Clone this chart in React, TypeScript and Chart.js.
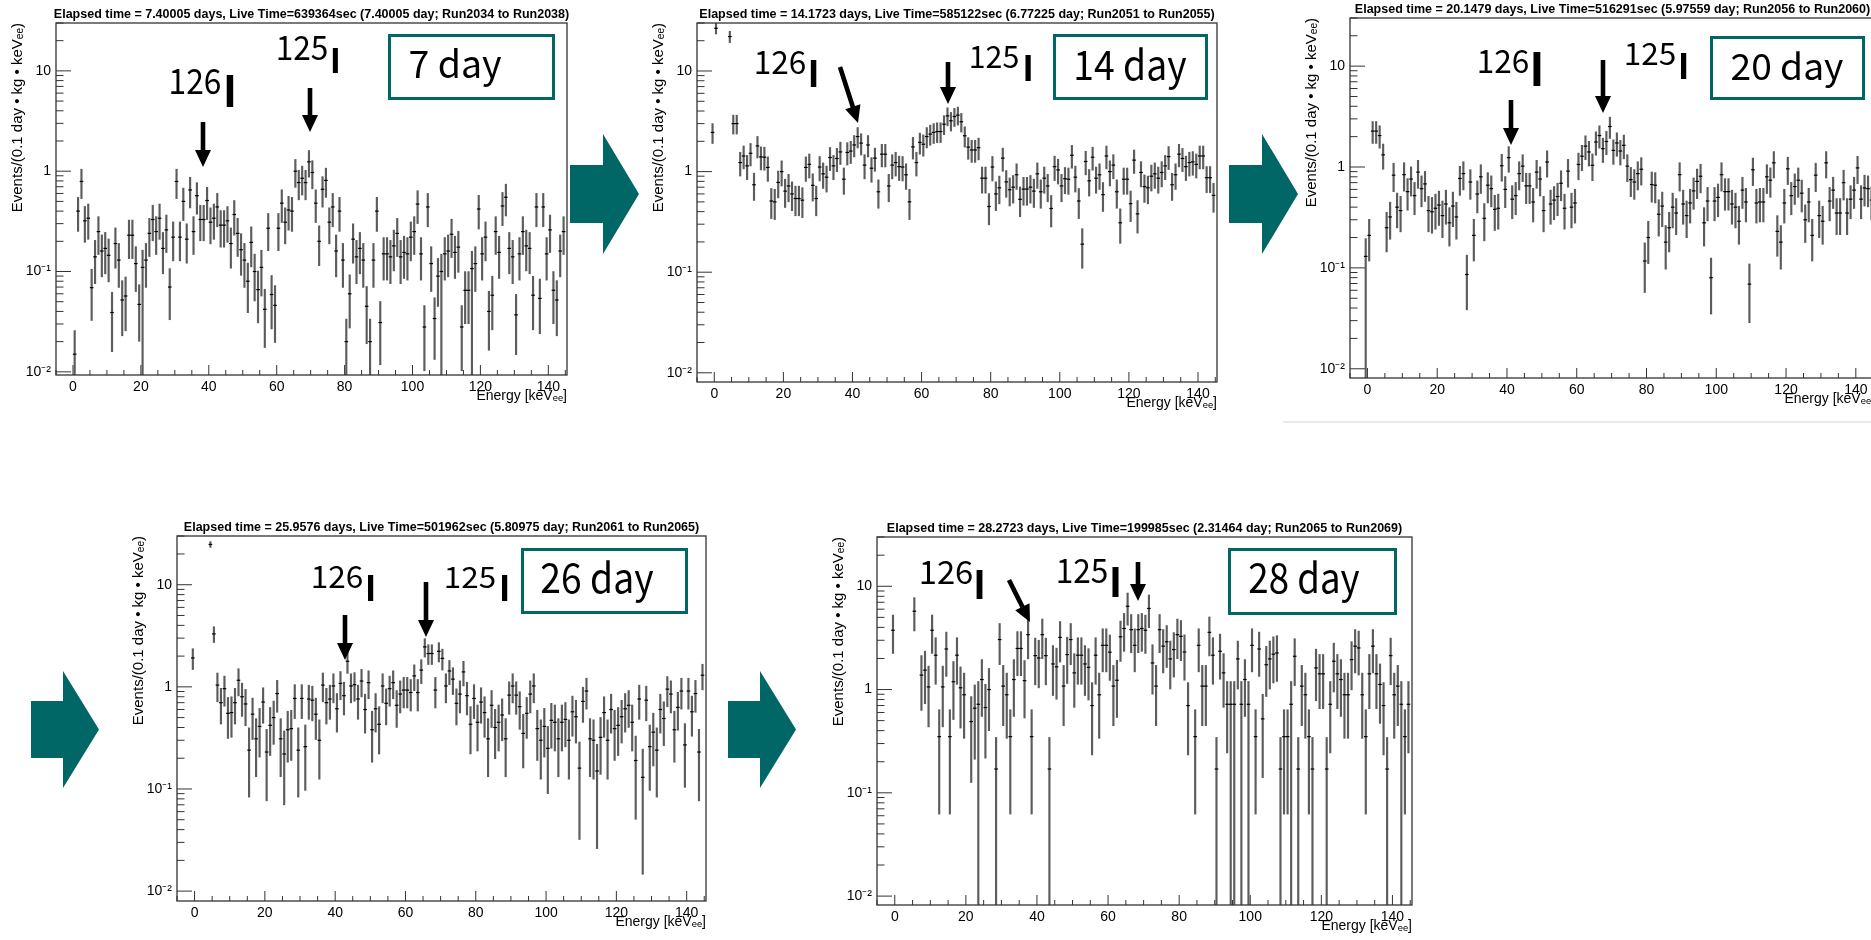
import React, { useEffect, useRef } from 'react';
import { Chart, registerables } from 'chart.js';

Chart.register(...registerables);

// ------------------------------------------------------------------
// DATA
// ------------------------------------------------------------------
// 1 keV wide energy bins, first bin centred at -0.5 keV (146 bins up to 144.5 keV)
const binCentersKeV: number[] = Array.from({ length: 146 }, (_, i) => i - 0.5);

const xTickValues = [-5, 0, 5, 10, 15, 20, 25, 30, 35, 40, 45, 50, 55, 60, 65, 70, 75, 80, 85, 90, 95, 100, 105, 110, 115, 120, 125, 130, 135, 140, 145];
const xTickLabels = [0, 20, 40, 60, 80, 100, 120, 140];
const yTickValues = [0.01, 0.02, 0.03, 0.04, 0.05, 0.06, 0.07, 0.08, 0.09, 0.1, 0.2, 0.3, 0.4, 0.5, 0.6, 0.7, 0.8, 0.9, 1, 2, 3, 4, 5, 6, 7, 8, 9, 10, 20, 30];
const yLabelValues = [0.01, 0.1, 1, 10];
const yLabelTexts = ['10\u207B\u00B2', '10\u207B\u00B9', '1', '10'];

const xAxisTitle = 'Energy [keV\u2091\u2091]';
const yAxisTitle = 'Events/(0.1 day \u2022 kg \u2022 keV\u2091\u2091)';

const titles = [
  'Elapsed time = 7.40005 days, Live Time=639364sec (7.40005 day; Run2034 to Run2038)',
  'Elapsed time = 14.1723 days, Live Time=585122sec (6.77225 day; Run2051 to Run2055)',
  'Elapsed time = 20.1479 days, Live Time=516291sec (5.97559 day; Run2056 to Run2060)',
  'Elapsed time = 25.9576 days, Live Time=501962sec (5.80975 day; Run2061 to Run2065)',
  'Elapsed time = 28.2723 days, Live Time=199985sec (2.31464 day; Run2065 to Run2069)',
];
const dayLabels = ['7 day', '14 day', '20 day', '26 day', '28 day'];

// Events/(0.1 day kg keVee) per bin; index 0 = bin centred at -0.5 keV
const day7Values = [null,
  0.015, 0.40, 0.79, 0.32, 0.34, 0.069, 0.14, 0.25, 0.16, 0.17,
  0.145, 0.039, 0.19, 0.13, 0.052, 0.057, 0.23, 0.23, 0.12, 0.047,
  0.11, 0.13, 0.24, 0.33, 0.25, 0.34, 0.17, 0.26, 0.07, 0.22,
  0.79, 0.22, 0.5, 0.21, 0.65, 0.25, 0.57, 0.33, 0.33, 0.51,
  0.31, 0.34, 0.44, 0.29, 0.29, 0.32, 0.19, 0.37, 0.24, 0.165,
  0.13, 0.08, 0.195, 0.1, 0.066, 0.11, 0.042, 0.27, 0.059, 0.046,
  0.27, 0.48, 0.31, 0.41, 0.4, 1.0, 0.77, 0.85, 0.77, 1.24,
  0.97, 0.48, 0.2, 0.66, 0.81, 0.31, 0.44, 0.16, 0.4, 0.13,
  0.02, 0.06, 0.21, 0.14, 0.17, 0.13, 0.045, 0.02, 0.13, 0.4,
  0.031, 0.15, 0.15, 0.14, 0.18, 0.24, 0.14, 0.155, 0.15, 0.22,
  0.25, 0.47, 0.15, 0.028, 0.44, 0.12, 0.034, 0.09, 0.1, 0.15,
  0.16, 0.235, 0.155, 0.175, 0.028, 0.065, 0.065, 0.107, 0.12, 0.42,
  0.15, 0.22, 0.04, 0.058, 0.25, 0.155, 0.45, 0.55, 0.17, 0.14,
  0.037, 0.15, 0.25, 0.18, 0.17, 0.058, 0.44, 0.054, 0.44, 0.15,
  0.26, 0.065, 0.052, 0.16, 0.25];

const day14Values = [2.45,
  26.6, null, null, null, 22, 3.0, 3.0, 1.23, 1.43, 1.14,
  1.52, 0.74, 1.8, 1.4, 1.39, 1.1, 0.51, 0.5, 0.78, 1.0,
  0.64, 0.72, 0.6, 0.54, 0.54, 0.52, 1.1, 1.18, 0.73, 0.54,
  1.11, 0.95, 0.88, 1.38, 1.14, 1.35, 1.57, 0.84, 1.55, 1.6,
  1.84, 2.23, 1.92, 1.16, 1.84, 1.08, 1.36, 0.63, 1.49, 1.49,
  0.72, 1.16, 1.23, 1.12, 1.11, 0.93, 0.5, 1.76, 1.23, 1.95,
  1.87, 2.23, 2.36, 2.45, 2.5, 2.5, 2.96, 3.58, 3.2, 3.53,
  3.64, 3.13, 2.27, 1.75, 1.64, 1.64, 1.73, 0.86, 0.86, 0.45,
  1.11, 0.6, 0.69, 1.36, 0.79, 0.66, 0.7, 0.93, 0.53, 0.67,
  0.67, 0.7, 0.64, 0.95, 0.63, 0.86, 0.72, 0.43, 1.12, 1.04,
  0.72, 0.85, 0.84, 1.45, 0.88, 0.51, 0.19, 1.26, 0.81, 1.39,
  0.86, 0.93, 0.59, 1.43, 1.0, 1.16, 0.63, 0.31, 0.84, 0.84,
  0.48, 1.3, 0.38, 0.98, 0.71, 0.69, 0.9, 0.95, 0.86, 0.98,
  1.14, 1.41, 0.74, 0.93, 1.49, 1.35, 1.12, 1.23, 1.25, 1.18,
  1.43, 1.43, 0.87, 0.87, 0.58];

const day20Values = [0.13,
  0.21, 2.27, 2.27, 2.05, 1.32, 0.25, 0.32, 0.83, 0.4, 0.37,
  0.84, 0.57, 0.76, 0.52, 0.89, 0.61, 0.68, 0.37, 0.36, 0.39,
  0.42, 0.33, 0.43, 0.28, 0.41, 0.32, 0.77, 0.86, 0.086, 0.71,
  0.21, 0.54, 0.8, 0.31, 0.66, 0.61, 0.38, 0.39, 1.03, 0.6,
  1.24, 0.48, 0.52, 0.86, 1.02, 0.65, 0.65, 0.45, 0.89, 0.76,
  0.37, 1.12, 0.43, 0.47, 0.51, 0.69, 0.39, 0.91, 0.4, 0.44,
  1.06, 1.28, 1.61, 1.41, 1.04, 1.77, 2.05, 1.52, 1.79, 2.52,
  1.46, 1.73, 1.44, 1.64, 1.02, 0.75, 0.71, 0.86, 0.95, 0.117,
  0.2, 0.67, 0.66, 0.34, 0.41, 0.18, 0.25, 0.4, 0.35, 0.84,
  0.43, 0.33, 0.44, 0.58, 0.72, 0.81, 0.28, 0.46, 0.08, 0.46,
  0.5, 0.84, 0.57, 0.57, 0.43, 0.4, 0.29, 0.59, 0.45, 0.069,
  0.94, 0.44, 0.45, 0.45, 0.8, 0.74, 1.1, 0.23, 0.18, 0.44,
  0.96, 0.52, 0.64, 0.74, 0.55, 0.3, 0.45, 0.21, 0.83, 0.33,
  0.29, 1.1, 0.46, 0.59, 0.35, 0.35, 0.7, 0.35, 0.48, 0.59,
  0.98, 0.48, 0.62, 0.61, 0.47];

const day26Values = [1.92,
  null, null, null, null, 24.8, 3.3, 1.04, 0.7, 0.96, 0.55,
  0.56, 0.7, 1.16, 0.8, 0.68, 0.24, 0.54, 0.31, 0.41, 0.71,
  0.23, 0.42, 0.5, 0.86, 0.31, 0.22, 0.38, 0.39, 0.77, 0.24,
  0.77, 0.26, 0.76, 0.74, 0.54, 0.3, 1.04, 0.7, 0.76, 1.02,
  0.61, 1.08, 0.82, 1.78, 1.02, 1.05, 0.76, 1.14, 0.6, 1.1,
  0.38, 0.61, 0.43, 1.02, 0.69, 0.96, 1.1, 0.66, 0.85, 0.93,
  0.93, 0.88, 1.28, 0.88, 1.46, 2.46, 2.12, 2.12, 0.93, 2.23,
  1.9, 1.02, 1.43, 1.19, 0.69, 0.85, 1.4, 0.82, 0.43, 0.77,
  0.45, 0.71, 0.56, 0.31, 0.66, 0.4, 0.45, 0.53, 0.31, 0.83,
  1.02, 0.83, 0.64, 0.35, 0.55, 0.85, 1.02, 0.39, 0.3, 0.41,
  0.25, 0.47, 0.45, 0.31, 0.45, 0.48, 0.3, 0.57, 0.51, 0.16,
  0.72, 0.91, 0.31, 0.3, 0.15, 0.32, 0.56, 0.3, 0.6, 0.39,
  0.42, 0.51, 0.61, 0.66, 0.45, 0.19, 0.76, 0.13, 0.74, 0.26,
  0.36, 0.24, 0.6, 0.49, 0.95, 0.85, 0.38, 0.63, 0.91, 0.27,
  0.91, 0.57, 0.86, 0.23, 1.3];

const day28Values = [3.75,
  null, null, null, null, null, 5.73, null, 1.38, 1.54, 1.06,
  3.75, 2.15, 0.35, 1.06, 2.47, 0.35, 1.19, 2.15, 1.04, 0.89,
  null, 0.49, 0.66, 0.72, 1.25, 0.67, 1.0, null, 0.17, 3.05,
  1.08, 0.89, 0.35, 1.25, 2.5, 2.5, 1.22, 3.4, 0.35, 2.13,
  2.02, 3.4, 2.13, 0.17, 1.77, 1.66, 3.2, 1.08, 2.18, 3.05,
  1.45, 2.15, 2.15, 1.77, 1.64, 0.7, 2.15, 0.89, 2.68, 2.68,
  2.3, 1.08, 1.23, 3.24, 3.9, 6.4, 3.8, 2.68, 3.8, 3.9,
  3.75, 6.1, 1.81, 1.08, 3.8, 2.63, 2.9, 1.98, 2.44, 3.4,
  3.28, 2.31, 0.7, null, 0.35, 2.68, 1.08, 1.08, 3.58, 2.15,
  0.17, 2.35, 1.45, 0.72, 0.72, 0.72, 1.98, 0.72, 1.25, 0.72,
  2.68, 0.35, 2.47, 0.52, 1.74, 1.98, 2.2, 2.26, 0.17, 0.35,
  0.35, 0.72, 2.1, 0.17, 1.08, 0.89, 0.35, 0.17, 1.62, 1.42,
  1.42, 0.17, 0.72, 1.88, 1.42, 1.25, 0.89, 0.89, 1.95, 2.63,
  2.53, 0.89, 0.35, 1.42, 2.63, 1.42, 1.12, 0.7, 0.17, 2.13,
  0.89, 1.08, 0.72, 0.35, 0.72];

// bins (centre, keV) whose lower error bar reaches the bottom of the axis
const day7BottomBins = [0.5, 20.5, 80.5, 87.5, 108.5, 117.5];
const day14BottomBins: number[] = [];
const day20BottomBins = [-0.5];
const day26BottomBins: number[] = [];
const day28BottomBins = [23.5, 28.5, 43.5, 90.5, 94.5, 95.5, 97.5, 99.5, 108.5, 111.5, 113.5, 117.5, 121.5, 138.5, 142.5];

// error bar size  err = scale * value^power
const errScale = [0.31, 0.28, 0.3, 0.32, 0.6];
const errPower = [0.8, 0.75, 0.75, 0.5, 0.7];

const yAxisMin = [0.0093, 0.0081, 0.0081, 0.008, 0.0082];
const yAxisMax = 30;
const xAxisMin = -5;
const xAxisMax = 145.5;

const seriesValues = [day7Values, day14Values, day20Values, day26Values, day28Values];
const seriesBottomBins = [day7BottomBins, day14BottomBins, day20BottomBins, day26BottomBins, day28BottomBins];

// ------------------------------------------------------------------
// LAYOUT
// ------------------------------------------------------------------
const FONT = "'Liberation Sans', Arial, Helvetica, sans-serif";
const JP = "'Noto Sans CJK JP', 'Noto Sans', sans-serif";
const TEAL = '#006666';
const LEFT = 50, RIGHT = 12, TOP = 23, BOTTOM = 32;

// plot frames (left, top, right, bottom) in page pixels
const frames = [
  { L: 56, T: 23, R: 567, B: 375 },
  { L: 697, T: 23, R: 1217, B: 382 },
  { L: 1350, T: 18, R: 1875, B: 378 },
  { L: 177, T: 536, R: 706, B: 901 },
  { L: 877, T: 537, R: 1412, B: 905 },
];

type Ann = {
  d126: number[]; i126: number[]; d125: number[]; i125: number[];
  arrows: number[][]; box: number[]; text: number[];
};
const annotations: Ann[] = [
  { d126: [170, 220, 68, 94], i126: [230, 75, 107], d125: [277, 327, 35, 60], i125: [335.5, 48, 73],
    arrows: [[203, 122, 203, 167], [310, 88, 310, 132]], box: [388, 34, 555, 100], text: [410, 500, 50, 78] },
  { d126: [755, 805, 50, 74], i126: [813.5, 60, 87], d125: [970, 1018, 45, 68], i125: [1028, 55, 81],
    arrows: [[840, 67, 858, 123], [948, 62, 948, 104]], box: [1053, 34, 1208, 100], text: [1075, 1185, 50, 80] },
  { d126: [1478, 1528, 49, 73], i126: [1537, 52, 86], d125: [1625, 1675, 42, 65], i125: [1683.5, 53, 79],
    arrows: [[1511, 100, 1511, 145], [1603, 60, 1603, 113]], box: [1710, 36, 1865, 100], text: [1732, 1842, 53, 80] },
  { d126: [312, 362, 565, 588], i126: [370.5, 575, 601], d125: [445, 495, 567, 588], i125: [504.5, 575, 601],
    arrows: [[345, 615, 345, 660], [426, 582, 426, 637]], box: [521, 548, 688, 614], text: [542, 652, 563, 593] },
  { d126: [920, 972, 560, 584], i126: [979.5, 570, 599], d125: [1057, 1107, 558, 583], i125: [1115.5, 567, 597],
    arrows: [[1009, 580, 1030, 622], [1138, 562, 1138, 601]], box: [1228, 548, 1397, 615], text: [1250, 1358, 563, 593] },
];

// big teal block arrows: [bodyLeft, bodyTop, headStart, bodyBottom, headTop, tipX, headBottom]
const blockArrows = [
  [570, 165, 603, 223, 134, 639, 254],
  [1229, 165, 1262, 223, 134, 1298, 254],
  [31, 701, 63, 758, 671, 99, 788],
  [728, 701, 760, 758, 671, 796, 788],
];

// ------------------------------------------------------------------
const isMajorY = (v: number) => yLabelValues.some((m) => Math.abs(v / m - 1) < 1e-6);

const rootFrame = {
  id: 'rootFrame',
  afterDatasetsDraw(chart: any, _args: any, opts: any) {
    const { ctx, chartArea: a, scales } = chart;
    const xs = scales.x, ys = scales.y;
    ctx.save();
    ctx.strokeStyle = '#333';
    ctx.lineWidth = 1.3;
    ctx.strokeRect(a.left, a.top, a.right - a.left, a.bottom - a.top);
    ctx.lineWidth = 1;
    ctx.beginPath();
    for (const t of xs.ticks) {
      const px = xs.getPixelForValue(t.value);
      const len = xTickLabels.includes(t.value) ? 10 : 5;
      ctx.moveTo(px, a.bottom);
      ctx.lineTo(px, a.bottom - len);
    }
    for (const t of ys.ticks) {
      const py = ys.getPixelForValue(t.value);
      const len = isMajorY(t.value) ? 15 : 7.5;
      ctx.moveTo(a.left, py);
      ctx.lineTo(a.left + len, py);
    }
    ctx.stroke();
    ctx.fillStyle = '#000';
    ctx.font = `bold 12.5px ${FONT}`;
    ctx.textAlign = 'center';
    ctx.textBaseline = 'middle';
    ctx.fillText(opts.text, (a.left + a.right) / 2, a.top - 8);
    ctx.restore();
  },
};

function Panel({ idx }: { idx: number }) {
  const ref = useRef<HTMLCanvasElement | null>(null);
  const g = frames[idx];
  const W = g.R - g.L + LEFT + RIGHT;
  const H = g.B - g.T + TOP + BOTTOM;

  useEffect(() => {
    const values = seriesValues[idx];
    const bottoms = seriesBottomBins[idx];
    const yMin = yAxisMin[idx];
    const bars: any[] = [];
    const pts: any[] = [];
    values.forEach((v, i) => {
      if (v == null) return;
      const x = binCentersKeV[i];
      const e = errScale[idx] * Math.pow(v, errPower[idx]);
      const lo = bottoms.includes(x) ? yMin * 0.5 : Math.max(v - e, yMin * 0.5);
      bars.push({ x, y: [lo, v + e] });
      pts.push({ x, y: v });
    });
    const chart = new Chart(ref.current as HTMLCanvasElement, {
      type: 'scatter',
      data: {
        datasets: [
          { type: 'bar', data: bars, barThickness: 1.5, backgroundColor: '#5c5c5c', borderWidth: 0, clip: 0, order: 2 } as any,
          { type: 'scatter', data: pts, pointStyle: 'line', pointRadius: 1.8, pointHoverRadius: 1.8,
            borderColor: '#000', backgroundColor: '#000', borderWidth: 1.2, clip: 0, order: 1 } as any,
        ],
      },
      options: {
        responsive: false,
        animation: false,
        devicePixelRatio: 1,
        events: [],
        layout: { padding: { left: 0, top: TOP, right: RIGHT, bottom: 0 } },
        plugins: {
          legend: { display: false },
          tooltip: { enabled: false },
          title: { display: false },
          rootFrame: { text: titles[idx] },
        } as any,
        scales: {
          x: {
            type: 'linear',
            min: xAxisMin,
            max: xAxisMax,
            bounds: 'data',
            offset: false,
            grid: { display: false, drawTicks: false },
            border: { display: false },
            afterBuildTicks: (s: any) => { s.ticks = xTickValues.map((v) => ({ value: v })); },
            afterFit: (s: any) => { s.height = BOTTOM; },
            ticks: {
              autoSkip: false, maxRotation: 0, minRotation: 0, padding: 4, color: '#000',
              font: { family: FONT, size: 14 },
              callback: (v: any) => (xTickLabels.includes(Number(v)) ? String(v) : ''),
            },
            title: { display: true, text: xAxisTitle, align: 'end', color: '#000', font: { family: FONT, size: 14 }, padding: { top: 0, bottom: 2 } },
          } as any,
          y: {
            type: 'logarithmic',
            min: yMin,
            max: yAxisMax,
            bounds: 'data',
            grid: { display: false, drawTicks: false },
            border: { display: false },
            afterBuildTicks: (s: any) => {
              s.ticks = yTickValues.filter((v) => v >= s.min && v <= s.max * 1.0001).map((v) => ({ value: v }));
            },
            afterFit: (s: any) => { s.width = LEFT; },
            ticks: {
              autoSkip: false, padding: 5, color: '#000',
              font: { family: FONT, size: 14 },
              callback: (v: any) => {
                const k = yLabelValues.findIndex((m) => Math.abs(Number(v) / m - 1) < 1e-6);
                return k >= 0 ? yLabelTexts[k] : '';
              },
            },
            title: { display: true, text: yAxisTitle, align: 'end', color: '#000', font: { family: FONT, size: 15 }, padding: { top: 3, bottom: 0 } },
          } as any,
        },
      },
      plugins: [rootFrame as any],
    });
    return () => chart.destroy();
  }, [idx]);

  return (
    <canvas
      ref={ref}
      width={W}
      height={H}
      style={{ position: 'absolute', left: g.L - LEFT, top: g.T - TOP, width: W, height: H }}
    />
  );
}

function arrowPoints(x1: number, y1: number, x2: number, y2: number) {
  const shaft = 4.6, headL = 17, headW = 8;
  const dx = x2 - x1, dy = y2 - y1;
  const len = Math.hypot(dx, dy);
  const ux = dx / len, uy = dy / len;
  const px = -uy, py = ux;
  const bx = x2 - ux * headL, by = y2 - uy * headL;
  const s = shaft / 2;
  return [
    [x1 + px * s, y1 + py * s], [bx + px * s, by + py * s], [bx + px * headW, by + py * headW], [x2, y2],
    [bx - px * headW, by - py * headW], [bx - px * s, by - py * s], [x1 - px * s, y1 - py * s],
  ].map((p) => p.join(',')).join(' ');
}

function Digits({ text, box }: { text: string; box: number[] }) {
  const [x1, x2, top, bottom] = box;
  const fs = (bottom - top) / 0.733;
  return (
    <text x={x1 - fs * 0.04} y={bottom} fontSize={fs} fontFamily={JP} fill="#000"
      textLength={x2 - x1 + fs * 0.08} lengthAdjust="spacingAndGlyphs">{text}</text>
  );
}

function Elem({ spec }: { spec: number[] }) {
  const [cx, top, bottom] = spec;
  const fs = (bottom - top) / 0.733;
  return (
    <text x={cx} y={bottom} fontSize={fs} fontFamily={JP} fontWeight={700} textAnchor="middle" fill="#000">I</text>
  );
}

function Overlay() {
  return (
    <svg width={1871} height={940} style={{ position: 'absolute', left: 0, top: 0 }}>
      <line x1={1283} y1={422} x2={1871} y2={422} stroke="#e3e3e3" strokeWidth={1.5} />
      {blockArrows.map((b, i) => {
        const [bl, bt, hs, bb, ht, tip, hb] = b;
        const cy = (ht + hb) / 2;
        const pts = [[bl, bt], [hs, bt], [hs, ht], [tip, cy], [hs, hb], [hs, bb], [bl, bb]].map((p) => p.join(',')).join(' ');
        return <polygon key={'ba' + i} points={pts} fill={TEAL} />;
      })}
      {annotations.map((a, i) => {
        const [bx1, by1, bx2, by2] = a.box;
        const [tx1, tx2, tt, tb] = a.text;
        const fs = (tb - tt) / 0.733;
        return (
          <g key={'an' + i}>
            <Digits text="126" box={a.d126} />
            <Elem spec={a.i126} />
            <Digits text="125" box={a.d125} />
            <Elem spec={a.i125} />
            {a.arrows.map((ar, j) => (
              <polygon key={j} points={arrowPoints(ar[0], ar[1], ar[2], ar[3])} fill="#000" />
            ))}
            <rect x={bx1 + 1.5} y={by1 + 1.5} width={bx2 - bx1 - 3} height={by2 - by1 - 3} fill="#fff" stroke={TEAL} strokeWidth={3} />
            <text x={tx1 - fs * 0.04} y={tb} fontSize={fs} fontFamily={JP} fill="#000"
              textLength={tx2 - tx1 + fs * 0.08} lengthAdjust="spacingAndGlyphs">{dayLabels[i]}</text>
          </g>
        );
      })}
    </svg>
  );
}

export default function App() {
  return (
    <div style={{ position: 'fixed', left: 0, top: 0, width: 1871, height: 940, overflow: 'hidden', background: '#fff' }}>
      {frames.map((_, i) => (
        <Panel key={i} idx={i} />
      ))}
      <Overlay />
    </div>
  );
}
